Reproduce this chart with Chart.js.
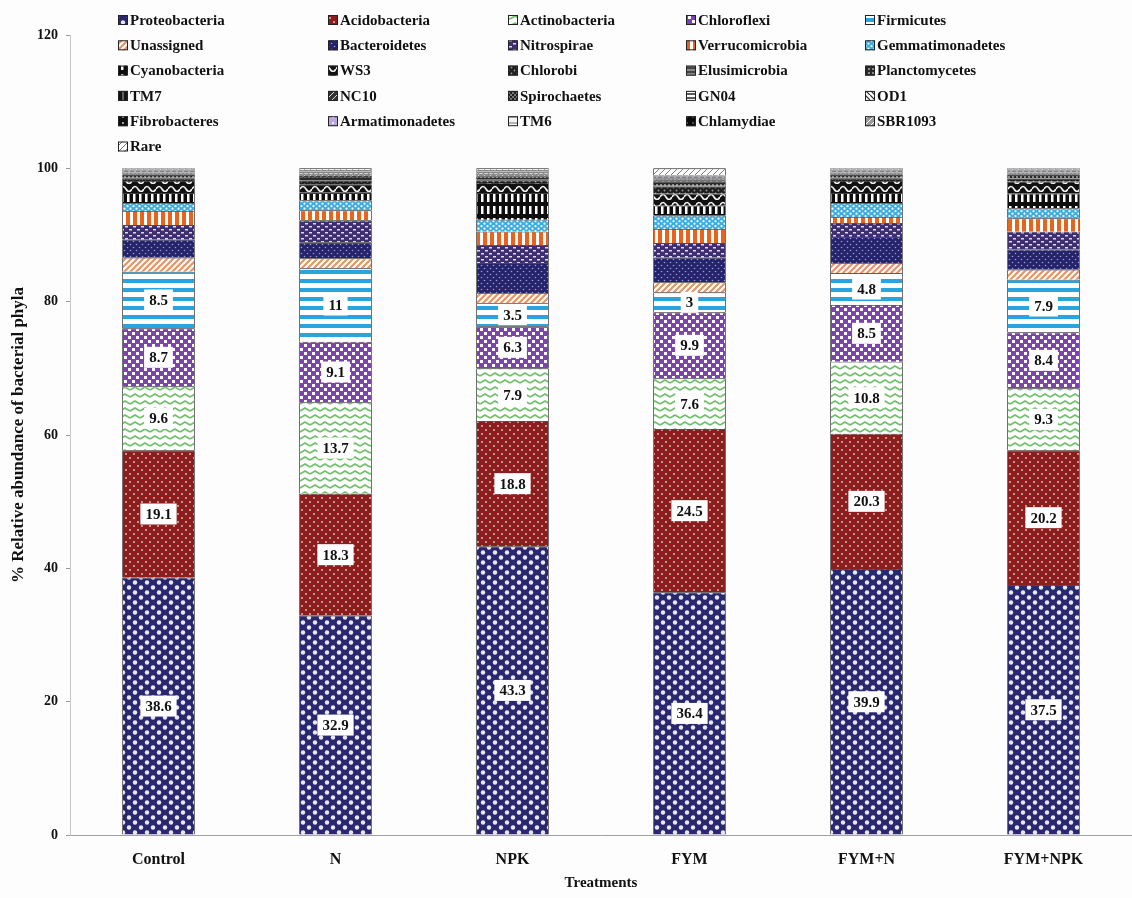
<!DOCTYPE html>
<html>
<head>
<meta charset="utf-8">
<script src="https://cdn.jsdelivr.net/npm/chart.js@4"></script>
<style>
  html, body { margin: 0; padding: 0; background: #fdfdfd; }
  canvas { display: block; }
</style>
</head>
<body>
<canvas id="phylaChart" width="1132" height="898"></canvas>
<script>
// ---- data ----
const treatments = ['Control', 'N', 'NPK', 'FYM', 'FYM+N', 'FYM+NPK'];

const phyla = [
    'Proteobacteria', 'Acidobacteria', 'Actinobacteria', 'Chloroflexi', 'Firmicutes',
    'Unassigned', 'Bacteroidetes', 'Nitrospirae', 'Verrucomicrobia', 'Gemmatimonadetes',
    'Cyanobacteria', 'WS3', 'Chlorobi', 'Elusimicrobia', 'Planctomycetes',
    'TM7', 'NC10', 'Spirochaetes', 'GN04', 'OD1',
    'Fibrobacteres', 'Armatimonadetes', 'TM6', 'Chlamydiae', 'SBR1093',
    'Rare'
];

// one array per treatment, same order as `phyla`
const control = [38.6, 19.1, 9.6, 8.7, 8.5, 2.1, 2.7, 2.2, 2.1, 1.2, 1.5, 1.8, 0.4, 0.1, 0.4, 0.1, 0.1, 0.1, 0.1, 0.1, 0.1, 0.1, 0.05, 0.05, 0.1, 0.1];
const nOnly   = [32.9, 18.3, 13.7, 9.1, 11, 1.5, 2.4, 3.3, 1.5, 1.5, 1.2, 1.2, 0.5, 0.1, 0.5, 0.2, 0.1, 0.1, 0.1, 0.1, 0.1, 0.1, 0.1, 0.1, 0.1, 0.2];
const npk     = [43.3, 18.8, 7.9, 6.3, 3.5, 1.5, 4.5, 2.7, 2.0, 1.8, 4.0, 1.5, 0.4, 0.1, 0.5, 0.1, 0.1, 0.1, 0.1, 0.1, 0.1, 0.1, 0.1, 0.1, 0.1, 0.2];
const fym     = [36.4, 24.5, 7.6, 9.9, 3, 1.5, 3.7, 2.2, 2.1, 2.0, 1.5, 1.8, 1.0, 0.2, 0.6, 0.2, 0.1, 0.1, 0.1, 0.1, 0.1, 0.1, 0.05, 0.05, 0.1, 1.0];
const fymN    = [39.9, 20.3, 10.8, 8.5, 4.8, 1.5, 3.9, 2.1, 0.9, 2.1, 1.5, 1.8, 0.4, 0.1, 0.4, 0.1, 0.1, 0.1, 0.1, 0.1, 0.1, 0.1, 0.05, 0.05, 0.1, 0.1];
const fymNpk  = [37.5, 20.2, 9.3, 8.4, 7.9, 1.5, 3.0, 2.7, 2.0, 1.5, 2.2, 1.8, 0.4, 0.1, 0.5, 0.1, 0.1, 0.1, 0.1, 0.1, 0.1, 0.1, 0.05, 0.05, 0.1, 0.1];

const byTreatment = [control, nOnly, npk, fym, fymN, fymNpk];
const labelledCount = 5; // value boxes on the first five phyla

const yTicks = [0, 20, 40, 60, 80, 100, 120];

// ---- pattern fills ----
function tile(w, h, bg, draw) {
    const c = document.createElement('canvas');
    c.width = w; c.height = h;
    const g = c.getContext('2d');
    g.fillStyle = bg;
    g.fillRect(0, 0, w, h);
    if (draw) draw(g, w, h);
    return g.createPattern(c, 'repeat');
}
function dots(g, pts, r, col) {
    g.fillStyle = col;
    pts.forEach(p => { g.beginPath(); g.arc(p[0], p[1], r, 0, Math.PI * 2); g.fill(); });
}
function lines(g, segs, col, lw) {
    g.strokeStyle = col; g.lineWidth = lw;
    g.beginPath();
    segs.forEach(s => { g.moveTo(s[0], s[1]); g.lineTo(s[2], s[3]); });
    g.stroke();
}

const fills = [
    // Proteobacteria
    tile(12, 10, '#29286f', g => dots(g, [[3, 2.5], [9, 7.5]], 2.2, '#e8e8f4')),
    // Acidobacteria
    tile(8, 8, '#8b1d1c', g => dots(g, [[2, 2], [6, 6]], 0.9, '#e6c8c8')),
    // Actinobacteria
    tile(10, 7, '#ffffff', g => {
        g.strokeStyle = '#72c06c'; g.lineWidth = 1.8;
        g.beginPath(); g.moveTo(0, 5); g.lineTo(5, 2); g.lineTo(10, 5); g.stroke();
    }),
    // Chloroflexi
    tile(8, 8, '#7d42b3', g => { g.fillStyle = '#ffffff'; g.fillRect(0, 0, 3, 3); g.fillRect(4, 4, 3, 3); }),
    // Firmicutes
    tile(8, 9, '#ffffff', g => { g.fillStyle = '#2aa4df'; g.fillRect(0, 0, 8, 4); }),
    // Unassigned
    tile(6, 6, '#ffffff', g => lines(g, [[0, 6, 6, 0], [-3, 3, 3, -3], [3, 9, 9, 3]], '#e39468', 2.2)),
    // Bacteroidetes
    tile(6, 6, '#25246b', g => dots(g, [[1.5, 1.5], [4.5, 4.5]], 0.8, '#9a9ad6')),
    // Nitrospirae
    tile(8, 6, '#3d2f72', g => { g.fillStyle = '#e0dcef'; g.fillRect(1, 1, 3, 1.5); g.fillRect(5, 4, 3, 1.5); }),
    // Verrucomicrobia
    tile(7, 6, '#ffffff', g => { g.fillStyle = '#e8641c'; g.fillRect(0, 0, 4, 6); }),
    // Gemmatimonadetes
    tile(6, 5, '#3badde', g => dots(g, [[1.5, 1.2], [4.5, 3.7]], 1.1, '#ffffff')),
    // Cyanobacteria
    tile(6, 12, '#0d0d0d', g => { g.fillStyle = '#ffffff'; g.fillRect(1, 2, 2.5, 8); }),
    // WS3
    tile(12, 8, '#111111', g => {
        g.strokeStyle = '#f2f2f2'; g.lineWidth = 1.6;
        g.beginPath(); g.moveTo(0, 5); g.quadraticCurveTo(3, 0, 6, 5); g.quadraticCurveTo(9, 10, 12, 5); g.stroke();
    }),
    // Chlorobi
    tile(6, 6, '#1e1e1e', g => dots(g, [[1.5, 1.5], [4.5, 4.5]], 0.9, '#9a9a9a')),
    // Elusimicrobia
    tile(6, 4, '#444444', g => lines(g, [[0, 2, 6, 2]], '#cfcfcf', 1)),
    // Planctomycetes
    tile(4, 4, '#2a2a2a', g => { g.fillStyle = '#8a8a8a'; g.fillRect(0, 0, 2, 2); }),
    // TM7
    tile(6, 6, '#141414', g => lines(g, [[3, 0, 3, 6]], '#aaaaaa', 1)),
    // NC10
    tile(6, 6, '#333333', g => lines(g, [[0, 6, 6, 0]], '#dddddd', 1)),
    // Spirochaetes
    tile(4, 4, '#202020', g => { g.fillStyle = '#777777'; g.fillRect(0, 0, 2, 2); g.fillRect(2, 2, 2, 2); }),
    // GN04
    tile(6, 4, '#ffffff', g => lines(g, [[0, 2, 6, 2]], '#222222', 1.5)),
    // OD1
    tile(5, 5, '#ffffff', g => lines(g, [[0, 0, 5, 5]], '#222222', 1.2)),
    // Fibrobacteres
    tile(6, 6, '#0f0f0f', g => dots(g, [[3, 3]], 1, '#cccccc')),
    // Armatimonadetes
    tile(6, 6, '#b9a6e3', g => dots(g, [[3, 3]], 1, '#ffffff')),
    // TM6
    tile(6, 6, '#f4f4f4', g => lines(g, [[0, 3, 6, 3]], '#555555', 0.8)),
    // Chlamydiae
    tile(6, 6, '#0a0a0a', g => dots(g, [[3, 3]], 1, '#666666')),
    // SBR1093
    tile(6, 6, '#9a9a9a', g => lines(g, [[0, 6, 6, 0]], '#ffffff', 1)),
    // Rare
    tile(6, 6, '#ffffff', g => lines(g, [[0, 6, 6, 0], [-3, 3, 3, -3], [3, 9, 9, 3]], '#777777', 1))
];

// ---- plugins ----
const serif = "'Liberation Serif', 'Times New Roman', serif";

// white boxes with the value inside the five main segments
const valueBoxes = {
    id: 'valueBoxes',
    afterDatasetsDraw(chart) {
        const ctx = chart.ctx;
        ctx.save();
        ctx.font = 'bold 15px ' + serif;
        ctx.textAlign = 'center';
        ctx.textBaseline = 'middle';
        for (let i = 0; i < labelledCount; i++) {
            const ds = chart.data.datasets[i];
            chart.getDatasetMeta(i).data.forEach((bar, j) => {
                const p = bar.getProps(['x', 'y', 'base'], true);
                const cy = (p.y + p.base) / 2;
                const txt = String(ds.data[j]);
                const w = ctx.measureText(txt).width + 10;
                ctx.fillStyle = '#ffffff';
                ctx.fillRect(p.x - w / 2, cy - 10.5, w, 21);
                ctx.fillStyle = '#111111';
                ctx.fillText(txt, p.x, cy + 1);
            });
        }
        ctx.restore();
    }
};

// five-column legend in the top of the plot
const gridLegend = {
    id: 'gridLegend',
    afterDraw(chart) {
        const ctx = chart.ctx;
        const colX = [118, 328, 508, 686, 865];
        const rowY0 = 20, rowH = 25.3, box = 10;
        ctx.save();
        ctx.font = 'bold 15px ' + serif;
        ctx.textBaseline = 'middle';
        chart.data.datasets.forEach((ds, k) => {
            const x = colX[k % 5];
            const y = rowY0 + Math.floor(k / 5) * rowH;
            ctx.fillStyle = ds.backgroundColor;
            ctx.fillRect(x, y - box / 2, box, box);
            ctx.strokeStyle = '#222';
            ctx.lineWidth = 1;
            ctx.strokeRect(x + 0.5, y - box / 2 + 0.5, box - 1, box - 1);
            ctx.fillStyle = '#111111';
            ctx.fillText(ds.label, x + box + 2, y + 1);
        });
        ctx.restore();
    }
};

// ---- chart ----
const datasets = phyla.map((name, k) => ({
    label: name,
    data: byTreatment.map(arr => arr[k]),
    backgroundColor: fills[k],
    borderColor: '#1a1a1a',
    borderWidth: 0.8,
    barPercentage: 0.41,
    categoryPercentage: 1.0
}));

new Chart(document.getElementById('phylaChart'), {
    type: 'bar',
    data: { labels: treatments, datasets },
    options: {
        responsive: false,
        animation: false,
        layout: { padding: { top: 35, right: 0, bottom: 4, left: 0 } },
        plugins: {
            legend: { display: false },
            tooltip: { enabled: false }
        },
        scales: {
            x: {
                stacked: true,
                grid: { display: false },
                border: { color: '#a0a0a0', width: 1 },
                ticks: { color: '#111', padding: 7, font: { family: serif, size: 16, weight: 'bold' } },
                title: {
                    display: true, text: 'Treatments', color: '#111',
                    padding: { top: 0, bottom: 2 },
                    font: { family: serif, size: 15, weight: 'bold' }
                },
                afterFit(s) { s.height = 59; }
            },
            y: {
                stacked: true,
                min: 0, max: 120,
                afterBuildTicks(s) { s.ticks = yTicks.map(v => ({ value: v })); },
                grid: { display: true, drawOnChartArea: false, tickLength: 4, color: '#999' },
                border: { color: '#c8c8c8', width: 1 },
                ticks: { color: '#111', padding: 8, font: { family: serif, size: 14, weight: 'bold' } },
                title: {
                    display: true, text: '% Relative abundance of bacterial phyla', color: '#111',
                    padding: { top: 8, bottom: 0 },
                    font: { family: serif, size: 17, weight: 'bold' }
                },
                afterFit(s) { s.width = 70; }
            }
        }
    },
    plugins: [valueBoxes, gridLegend]
});
</script>
</body>
</html>
